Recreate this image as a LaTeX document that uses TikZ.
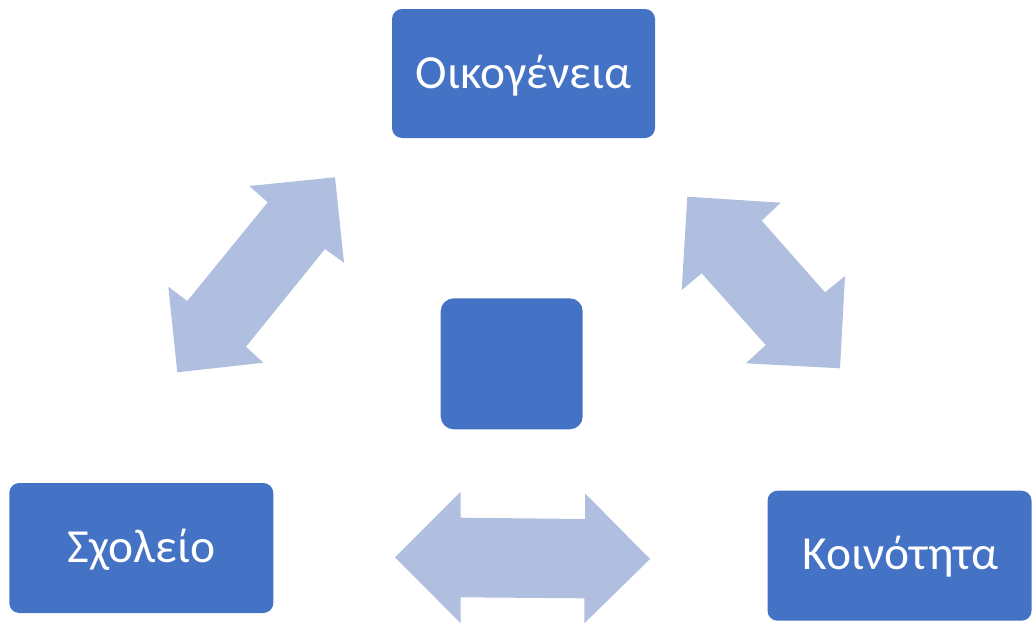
\documentclass[tikz,border=0pt]{standalone}
\usepackage{fontspec}
\setmainfont{Carlito}
\definecolor{boxblue}{RGB}{68,114,196}
\definecolor{arrowblue}{RGB}{176,190,223}
\begin{document}
\begin{tikzpicture}[x=1pt,y=-1pt,
  blockbox/.style={draw=none,fill=boxblue,rounded corners=10pt,inner sep=0pt},
  blocktext/.style={text=white,anchor=base,inner sep=0pt,font=\fontsize{47.5}{52}\selectfont},
  blockarrow/.style={fill=arrowblue,draw=none}]
\useasboundingbox (0,0) rectangle (1032,624);
% boxes
\node[blockbox,minimum width=263pt,minimum height=129pt] (fam) at (523.5,73.5) {};
\node[blockbox,minimum width=264pt,minimum height=130pt] (sch) at (141.3,548) {};
\node[blockbox,minimum width=264pt,minimum height=130pt] (com) at (899.5,555.7) {};
\node[blockbox,rounded corners=13pt,minimum width=142pt,minimum height=131pt] (mid) at (511.7,363.8) {};
% texts
\node[blocktext] (famt) at (523.5,88.5) {Οικογένεια};
\node[blocktext] (scht) at (141.3,562) {Σχολείο};
\node[blocktext] (comt) at (900.5,569.5) {Κοινότητα};
% arrows
\fill[blockarrow] (249.3,186) -- (335,177.3) -- (344,262.7) -- (325,249) -- (246,346.7) -- (263.3,362.7) -- (177.3,372.3) -- (168.3,286.7) -- (187.3,301) -- (267.7,202.3) -- cycle;
\fill[blockarrow] (687.3,196.7) -- (780.7,202.7) -- (761.7,220.7) -- (825,292.3) -- (845,276) -- (840,368.3) -- (746,363.3) -- (765.7,345) -- (701.7,273.3) -- (681.7,290) -- cycle;
\fill[blockarrow] (395,557.3) -- (460.7,491.7) -- (460.7,517.7) -- (585,519) -- (585,493.3) -- (650,559) -- (584.3,623.3) -- (584.3,598.3) -- (460.7,597.3) -- (460.7,623.3) -- cycle;
\end{tikzpicture}
\end{document}
